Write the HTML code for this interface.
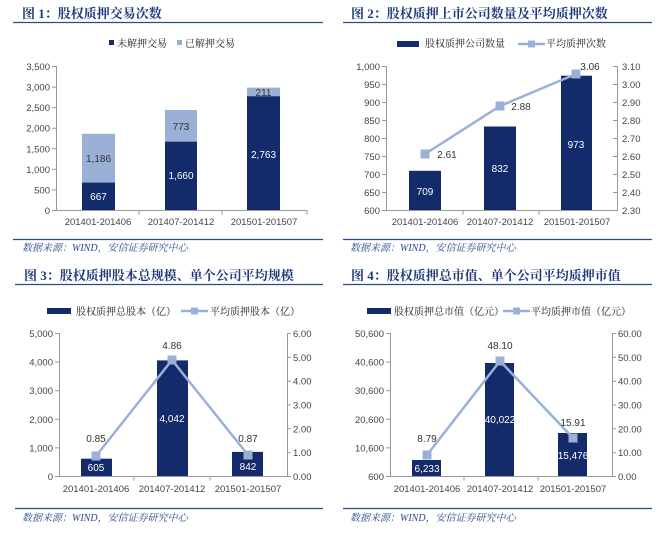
<!DOCTYPE html>
<html><head><meta charset="utf-8">
<style>
html,body{margin:0;padding:0;background:#fff;}
svg{display:block;}
text{font-family:"Liberation Sans","Noto Sans CJK SC",sans-serif;}
.t{font-family:"Liberation Serif","Noto Serif CJK SC",serif;font-size:13px;font-weight:bold;fill:#1f3a7a;}
.s{font-family:"Liberation Serif","Noto Serif CJK SC",serif;font-size:10px;font-style:italic;fill:#2a4a8a;}
.k{font-size:9.5px;fill:#444;}
.lg{font-family:"Liberation Sans","Noto Serif CJK SC",serif;font-size:10px;fill:#222;}
.w{font-size:10px;fill:#fff;}
.v{font-size:10px;fill:#333;}
.ax{stroke:#999;stroke-width:1;fill:none;}
.hl{stroke:#2a4a8a;stroke-width:1.3;}
</style></head><body>
<svg width="661" height="537" viewBox="0 0 661 537" xmlns="http://www.w3.org/2000/svg">
<!-- Panel 1 -->
<text class="t" x="22" y="18">图 1：股权质押交易次数</text>
<line class="hl" x1="13" y1="22.5" x2="323" y2="22.5"/>
<rect x="109" y="40" width="5" height="5" fill="#132a6b"/><text class="lg" x="117" y="47">未解押交易</text>
<rect x="177" y="40" width="5" height="5" fill="#9bb0d6"/><text class="lg" x="185" y="47">已解押交易</text>
<g class="k" text-anchor="end">
<text x="50" y="70">3,500</text><text x="50" y="90.6">3,000</text><text x="50" y="111.1">2,500</text><text x="50" y="131.7">2,000</text><text x="50" y="152.3">1,500</text><text x="50" y="172.9">1,000</text><text x="50" y="193.4">500</text><text x="50" y="214">0</text>
</g>
<path class="ax" d="M56.5 66V210.5H307M52 66.5H56M52 87.1H56M52 107.6H56M52 128.2H56M52 148.8H56M52 169.4H56M52 189.9H56M52 210.5H56M139 210.5v4M222 210.5v4M307 210.5v4"/>
<rect x="82" y="133.8" width="33" height="49" fill="#9bb0d6"/><rect x="82" y="182.6" width="33" height="27.4" fill="#132a6b"/>
<rect x="165" y="110" width="32" height="32" fill="#9bb0d6"/><rect x="165" y="141.7" width="32" height="68.3" fill="#132a6b"/>
<rect x="247" y="87.6" width="33" height="9" fill="#9bb0d6"/><rect x="247" y="96.3" width="33" height="113.7" fill="#132a6b"/>
<g text-anchor="middle">
<text class="v" x="98.5" y="162">1,186</text><text class="w" x="98.5" y="200">667</text>
<text class="v" x="181" y="130">773</text><text class="w" x="181" y="179">1,660</text>
<text class="v" x="263.5" y="96">211</text><text class="w" x="263.5" y="158">2,763</text>
<text class="k" x="98" y="225">201401-201406</text><text class="k" x="181" y="225">201407-201412</text><text class="k" x="264" y="225">201501-201507</text>
</g>
<line class="hl" x1="13" y1="239.5" x2="323" y2="239.5"/>
<text class="s" x="22" y="251">数据来源：WIND，安信证券研究中心</text>

<!-- Panel 2 -->
<text class="t" x="351" y="18">图 2：股权质押上市公司数量及平均质押次数</text>
<line class="hl" x1="343" y1="22.5" x2="652" y2="22.5"/>
<rect x="397" y="41" width="22" height="6" fill="#132a6b"/><text class="lg" x="425" y="47">股权质押公司数量</text>
<line x1="518" y1="44" x2="545" y2="44" stroke="#9bb0d6" stroke-width="2.5"/><rect x="528" y="40.5" width="7" height="7" fill="#9bb0d6"/><text class="lg" x="546" y="47">平均质押次数</text>
<g class="k" text-anchor="end">
<text x="380" y="70">1,000</text><text x="380" y="88">950</text><text x="380" y="106">900</text><text x="380" y="124">850</text><text x="380" y="142">800</text><text x="380" y="160">750</text><text x="380" y="178">700</text><text x="380" y="196">650</text><text x="380" y="214">600</text>
</g>
<g class="k">
<text x="622" y="70">3.10</text><text x="622" y="88">3.00</text><text x="622" y="106">2.90</text><text x="622" y="124">2.80</text><text x="622" y="142">2.70</text><text x="622" y="160">2.60</text><text x="622" y="178">2.50</text><text x="622" y="196">2.40</text><text x="622" y="214">2.30</text>
</g>
<path class="ax" d="M386.5 66V210.5H617.5V66M382 66.5H386M382 84.5H386M382 102.5H386M382 120.5H386M382 138.5H386M382 156.5H386M382 174.5H386M382 192.5H386M382 210.5H386M613 66.5H617M613 84.5H617M613 102.5H617M613 120.5H617M613 138.5H617M613 156.5H617M613 174.5H617M613 192.5H617M463 210.5v4M539 210.5v4"/>
<rect x="409" y="170.8" width="32" height="39.2" fill="#132a6b"/>
<rect x="484" y="126.5" width="32" height="83.5" fill="#132a6b"/>
<rect x="561" y="75.7" width="31" height="134.3" fill="#132a6b"/>
<polyline points="425,154 500,106 576,74" fill="none" stroke="#9bb0d6" stroke-width="2.5"/>
<rect x="420.5" y="149.5" width="9" height="9" fill="#9bb0d6"/><rect x="495.5" y="101.5" width="9" height="9" fill="#9bb0d6"/><rect x="571.5" y="69.5" width="9" height="9" fill="#9bb0d6"/>
<g text-anchor="middle">
<text class="v" x="447" y="158">2.61</text><text class="v" x="521" y="110">2.88</text><text class="v" x="590" y="70">3.06</text>
<text class="w" x="425" y="195">709</text><text class="w" x="500" y="172">832</text><text class="w" x="576" y="148">973</text>
<text class="k" x="425" y="225">201401-201406</text><text class="k" x="500" y="225">201407-201412</text><text class="k" x="577" y="225">201501-201507</text>
</g>
<line class="hl" x1="343" y1="239.5" x2="652" y2="239.5"/>
<text class="s" x="350" y="251">数据来源：WIND，安信证券研究中心</text>

<!-- Panel 3 -->
<text class="t" x="24" y="280">图 3：股权质押股本总规模、单个公司平均规模</text>
<line class="hl" x1="15" y1="284.5" x2="323" y2="284.5"/>
<rect x="47" y="308" width="24" height="6" fill="#132a6b"/><text class="lg" x="76" y="315">股权质押总股本（亿）</text>
<line x1="181" y1="311" x2="208" y2="311" stroke="#9bb0d6" stroke-width="2.5"/><rect x="191" y="307.5" width="7" height="7" fill="#9bb0d6"/><text class="lg" x="210" y="315">平均质押股本（亿）</text>
<g class="k" text-anchor="end">
<text x="53" y="337">5,000</text><text x="53" y="365.6">4,000</text><text x="53" y="394.2">3,000</text><text x="53" y="422.8">2,000</text><text x="53" y="451.4">1,000</text><text x="53" y="480">0</text>
</g>
<g class="k">
<text x="293" y="337">6.00</text><text x="293" y="360.8">5.00</text><text x="293" y="384.7">4.00</text><text x="293" y="408.5">3.00</text><text x="293" y="432.3">2.00</text><text x="293" y="456.2">1.00</text><text x="293" y="480">0.00</text>
</g>
<path class="ax" d="M59.5 333V476.5H287.5V333M55 333.5H59M55 362.1H59M55 390.7H59M55 419.3H59M55 447.9H59M55 476.5H59M287 333.5h4M287 357.3h4M287 381.2h4M287 405h4M287 428.8h4M287 452.7h4M287 476.5h4M134 476.5v4M210 476.5v4"/>
<rect x="81" y="458.7" width="31" height="17.3" fill="#132a6b"/>
<rect x="157" y="360.4" width="31" height="115.6" fill="#132a6b"/>
<rect x="232" y="451.9" width="31" height="24.1" fill="#132a6b"/>
<polyline points="96,456 172,360 248,455" fill="none" stroke="#9bb0d6" stroke-width="2.5"/>
<rect x="91.5" y="451.5" width="9" height="9" fill="#9bb0d6"/><rect x="167.5" y="355.5" width="9" height="9" fill="#9bb0d6"/><rect x="243.5" y="450.5" width="9" height="9" fill="#9bb0d6"/>
<g text-anchor="middle">
<text class="v" x="96" y="442">0.85</text><text class="v" x="172" y="349">4.86</text><text class="v" x="248" y="442">0.87</text>
<text class="w" x="96" y="471">605</text><text class="w" x="172" y="422">4,042</text><text class="w" x="248" y="470">842</text>
<text class="k" x="96" y="492">201401-201406</text><text class="k" x="172" y="492">201407-201412</text><text class="k" x="248" y="492">201501-201507</text>
</g>
<line class="hl" x1="15" y1="508.5" x2="323" y2="508.5"/>
<text class="s" x="22" y="521">数据来源：WIND，安信证券研究中心</text>

<!-- Panel 4 -->
<text class="t" x="351" y="280">图 4：股权质押总市值、单个公司平均质押市值</text>
<line class="hl" x1="343" y1="284.5" x2="652" y2="284.5"/>
<rect x="367" y="308" width="24" height="6" fill="#132a6b"/><text class="lg" x="394" y="315">股权质押总市值（亿元）</text>
<line x1="503" y1="311" x2="530" y2="311" stroke="#9bb0d6" stroke-width="2.5"/><rect x="513" y="307.5" width="7" height="7" fill="#9bb0d6"/><text class="lg" x="531" y="315">平均质押市值（亿元）</text>
<g class="k" text-anchor="end">
<text x="384" y="337">50,600</text><text x="384" y="365.6">40,600</text><text x="384" y="394.2">30,600</text><text x="384" y="422.8">20,600</text><text x="384" y="451.4">10,600</text><text x="384" y="480">600</text>
</g>
<g class="k">
<text x="618" y="337">60.00</text><text x="618" y="360.8">50.00</text><text x="618" y="384.7">40.00</text><text x="618" y="408.5">30.00</text><text x="618" y="432.3">20.00</text><text x="618" y="456.2">10.00</text><text x="618" y="480">0.00</text>
</g>
<path class="ax" d="M390.5 333V476.5H612.5V333M386 333.5H390M386 362.1H390M386 390.7H390M386 419.3H390M386 447.9H390M386 476.5H390M612 333.5h4M612 357.3h4M612 381.2h4M612 405h4M612 428.8h4M612 452.7h4M612 476.5h4M464 476.5v4M538 476.5v4"/>
<rect x="412" y="460" width="29" height="16" fill="#132a6b"/>
<rect x="485" y="363" width="29" height="113" fill="#132a6b"/>
<rect x="558" y="433" width="29" height="43" fill="#132a6b"/>
<polyline points="427,455 500,361 573,438" fill="none" stroke="#9bb0d6" stroke-width="2.5"/>
<rect x="422.5" y="450.5" width="9" height="9" fill="#9bb0d6"/><rect x="495.5" y="356.5" width="9" height="9" fill="#9bb0d6"/><rect x="568.5" y="433.5" width="9" height="9" fill="#9bb0d6"/>
<g text-anchor="middle">
<text class="v" x="427" y="442">8.79</text><text class="v" x="500" y="349">48.10</text><text class="v" x="573" y="426">15.91</text>
<text class="w" x="427" y="472">6,233</text><text class="w" x="500" y="423">40,022</text><text class="w" x="573" y="459">15,476</text>
<text class="k" x="427" y="492">201401-201406</text><text class="k" x="500" y="492">201407-201412</text><text class="k" x="573" y="492">201501-201507</text>
</g>
<line class="hl" x1="343" y1="508.5" x2="652" y2="508.5"/>
<text class="s" x="350" y="521">数据来源：WIND，安信证券研究中心</text>
</svg>
</body></html>
